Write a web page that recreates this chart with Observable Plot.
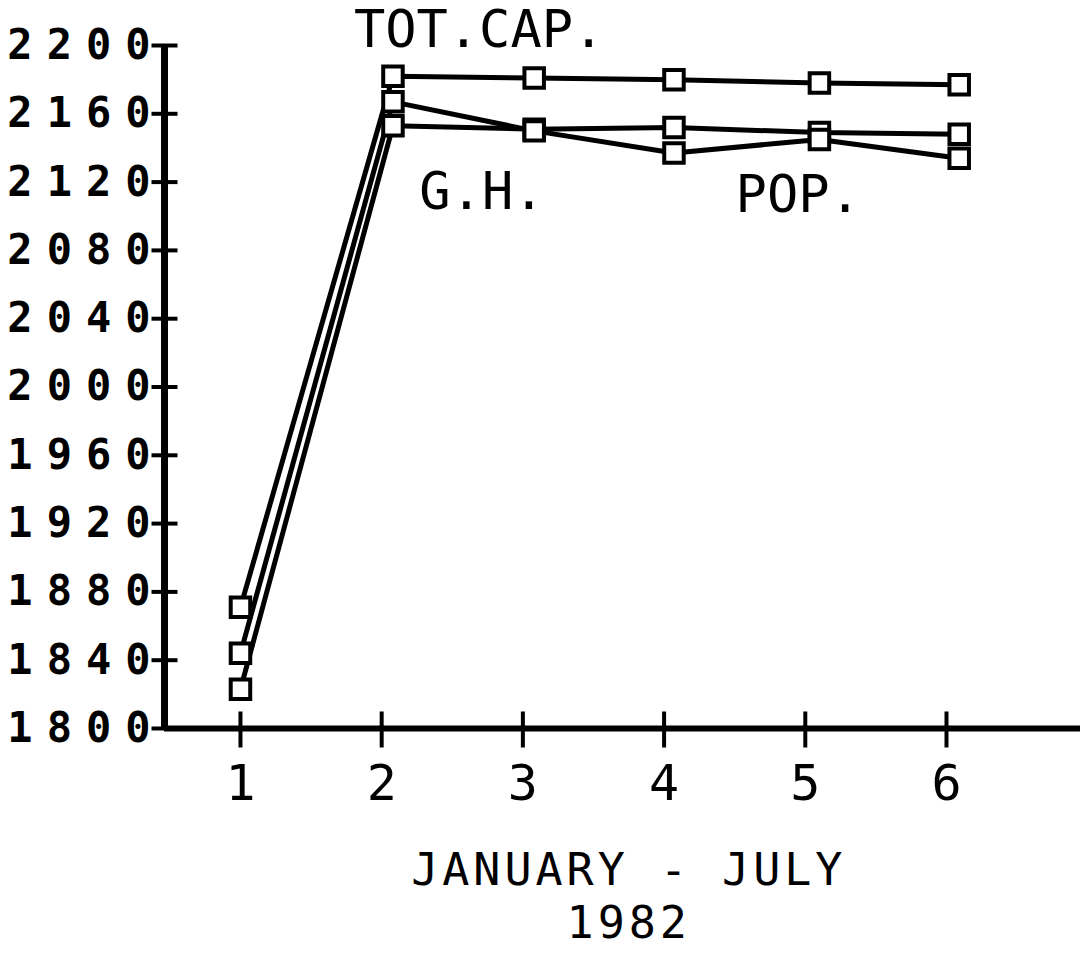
<!DOCTYPE html>
<html>
<head>
<meta charset="utf-8">
<script src="https://cdn.jsdelivr.net/npm/d3@7"></script>
<script src="https://cdn.jsdelivr.net/npm/@observablehq/plot@0.6"></script>
<style>
  html, body { margin: 0; padding: 0; background: #fff; }
  #chart svg { display: block; background: #fff; }
</style>
</head>
<body>
<div id="chart"></div>
<script>
// ---- data ----
const months = [1, 2, 3, 4, 5, 6];                      // x tick values
const markerPos = [1.0, 2.08, 3.08, 4.07, 5.1, 6.09];   // where the plotted points sit along x
const seriesNames = ["TOT.CAP.", "G.H.", "POP."];
const totCap = [1871, 2182, 2181, 2180, 2178, 2177];
const gh     = [1823, 2153, 2151, 2152, 2149, 2148];
const pop    = [1844, 2167, 2150, 2137, 2145, 2134];
const yTicks = [1800, 1840, 1880, 1920, 1960, 2000, 2040, 2080, 2120, 2160, 2200];
const xTitleLines = ["JANUARY - JULY", "1982"];

const seriesValues = [totCap, gh, pop];
const rows = seriesNames.flatMap((name, i) =>
  seriesValues[i].map((v, j) => ({series: name, month: months[j], pos: markerPos[j], value: v})));

const xDomain = [0.462, 6.949];
const font = "DejaVu Sans Mono";

const hTick = {draw(ctx) { ctx.moveTo(-13, 0); ctx.lineTo(13, 0); }};
const vTick = {draw(ctx) { ctx.moveTo(0, -17); ctx.lineTo(0, 19); }};

const chart = Plot.plot({
  width: 1080,
  height: 954,
  marginLeft: 164,
  marginRight: 0,
  marginTop: 45,
  marginBottom: 226,
  style: {background: "#fff", overflow: "visible"},
  x: {domain: xDomain},
  y: {domain: [1800, 2200]},
  marks: [
    // axis lines
    Plot.ruleY([1800], {stroke: "black", strokeWidth: 6}),
    Plot.ruleX([xDomain[0]], {y1: 1800, y2: 2200, stroke: "black", strokeWidth: 7}),
    // cross ticks
    Plot.dot(yTicks, {x: () => xDomain[0], y: d => d, symbol: hTick, stroke: "black", strokeWidth: 4, fill: "none"}),
    Plot.dot(months, {x: d => d, y: () => 1800, symbol: vTick, stroke: "black", strokeWidth: 4, fill: "none"}),
    // tick labels
    Plot.axisY(yTicks, {tickSize: 0, tickPadding: 0, fontSize: 42, fontWeight: "bold", fontFamily: font,
      fill: "black", tickFormat: d => `${d}`, label: null}),
    Plot.axisX(months, {tickSize: 0, tickPadding: 36, fontSize: 50, fontFamily: font,
      fill: "black", tickFormat: d => `${d}`, label: null}),
    // series
    Plot.line(rows, {x: "pos", y: "value", z: "series", stroke: "black", strokeWidth: 5}),
    Plot.dot(rows, {x: "pos", y: "value", symbol: "square", r: 11, stroke: "black", strokeWidth: 4, fill: "white"}),
    // series labels
    Plot.text([seriesNames[0]], {x: () => 2.69, y: () => 2209, text: d => d, fontSize: 52, fontFamily: font, fill: "black"}),
    Plot.text([seriesNames[1]], {x: () => 2.71, y: () => 2114, text: d => d, fontSize: 52, fontFamily: font, fill: "black"}),
    Plot.text([seriesNames[2]], {x: () => 4.95, y: () => 2112, text: d => d, fontSize: 52, fontFamily: font, fill: "black"}),
    // x title (two lines)
    Plot.text([xTitleLines[0]], {x: () => 3.75, frameAnchor: "bottom", dy: 125, lineAnchor: "top",
      text: d => d, fontSize: 45, fontFamily: font, fill: "black"}),
    Plot.text([xTitleLines[1]], {x: () => 3.75, frameAnchor: "bottom", dy: 178, lineAnchor: "top",
      text: d => d, fontSize: 45, fontFamily: font, fill: "black"})
  ]
});

d3.select(chart).selectAll('g[aria-label="y-axis tick label"] text').style("letter-spacing", "14px");
d3.select(chart).selectAll("text")
  .filter(function() { return xTitleLines.includes(this.textContent); })
  .style("letter-spacing", "4px");
document.getElementById("chart").append(chart);
</script>
</body>
</html>
